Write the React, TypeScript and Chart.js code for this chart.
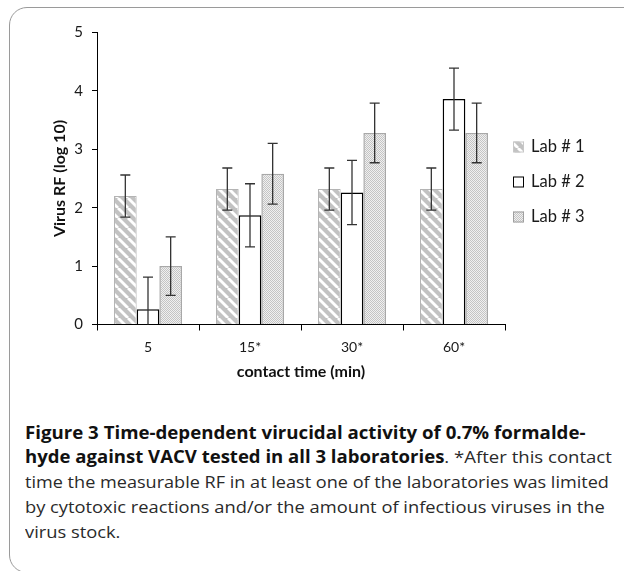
import React, { useEffect, useLayoutEffect, useRef } from "react";
import { Chart, registerables } from "chart.js";

Chart.register(...registerables);

// ---- data ----
const categories = ["5", "15*", "30*", "60*"];
const seriesNames = ["Lab # 1", "Lab # 2", "Lab # 3"];
const lab1 = [2.2, 2.32, 2.32, 2.32];
const lab2 = [0.26, 1.87, 2.26, 3.86];
const lab3 = [1.0, 2.58, 3.28, 3.28];
const lab1Err = [0.36, 0.36, 0.36, 0.36];
const lab2Err = [0.55, 0.54, 0.55, 0.53];
const lab3Err = [0.5, 0.52, 0.51, 0.51];
const yMin = 0;
const yMax = 5;
const yStep = 1;
const yTitle = "Virus RF (log 10)";
const xTitle = "contact time (min)";

const captionLines: { bold: string; normal: string; target: number }[] = [
  { bold: "Figure 3 Time-dependent virucidal activity of 0.7% formalde-", normal: "", target: 560 },
  { bold: "hyde against VACV tested in all 3 laboratories", normal: ". *After this contact", target: 587 },
  { bold: "", normal: "time the measurable RF in at least one of the laboratories was limited", target: 584 },
  { bold: "", normal: "by cytotoxic reactions and/or the amount of infectious viruses in the", target: 580 },
  { bold: "", normal: "virus stock.", target: 0 },
];

const TICK_FONT = "Lato, 'Open Sans', sans-serif";

function stripePattern(ctx: CanvasRenderingContext2D) {
  const n = 10;
  const c = document.createElement("canvas");
  c.width = n;
  c.height = n;
  const g = c.getContext("2d")!;
  g.fillStyle = "#c2c2c2";
  g.fillRect(0, 0, n, n);
  g.strokeStyle = "#ffffff";
  g.lineWidth = 2.8;
  for (const off of [-n, 0, n]) {
    g.beginPath();
    g.moveTo(off, 0);
    g.lineTo(off + n, n);
    g.stroke();
  }
  return ctx.createPattern(c, "repeat")!;
}

function dotPattern(ctx: CanvasRenderingContext2D) {
  const c = document.createElement("canvas");
  c.width = 2;
  c.height = 2;
  const g = c.getContext("2d")!;
  g.fillStyle = "#f0f0f0";
  g.fillRect(0, 0, 2, 2);
  g.fillStyle = "#c4c4c4";
  g.fillRect(0, 0, 1, 1);
  g.fillRect(1, 1, 1, 1);
  return ctx.createPattern(c, "repeat")!;
}

const errorBarsPlugin = {
  id: "errorBars",
  afterDatasetsDraw(chart: any) {
    const { ctx, chartArea, scales } = chart;
    const y = scales.y;
    ctx.save();
    ctx.beginPath();
    ctx.rect(chartArea.left, chartArea.top - 20, chartArea.right - chartArea.left, chartArea.bottom - chartArea.top + 20);
    ctx.clip();
    chart.data.datasets.forEach((ds: any, di: number) => {
      const meta = chart.getDatasetMeta(di);
      meta.data.forEach((bar: any, i: number) => {
        const v = ds.data[i];
        const e = ds.errors[i];
        const yt = y.getPixelForValue(v + e);
        const yb = y.getPixelForValue(v - e);
        const x = bar.x;
        ctx.strokeStyle = "#333333";
        ctx.lineWidth = 1.3;
        ctx.beginPath();
        ctx.moveTo(x, yt);
        ctx.lineTo(x, yb);
        ctx.moveTo(x - 5, yt);
        ctx.lineTo(x + 5, yt);
        ctx.moveTo(x - 5, yb);
        ctx.lineTo(x + 5, yb);
        ctx.stroke();
      });
    });
    ctx.restore();
  },
};

const sideLegendPlugin = {
  id: "sideLegend",
  afterDraw(chart: any) {
    const { ctx, chartArea } = chart;
    const cy = (chartArea.top + chartArea.bottom) / 2 + 3.5;
    ctx.save();
    chart.data.datasets.forEach((ds: any, i: number) => {
      const yc = cy + (i - 1) * 35;
      const bx = chartArea.right + 8;
      const size = 11;
      ctx.fillStyle = ds.backgroundColor;
      ctx.fillRect(bx, yc - size / 2, size, size);
      ctx.strokeStyle = ds.legendBorder;
      ctx.lineWidth = 1;
      ctx.strokeRect(bx + 0.5, yc - size / 2 + 0.5, size - 1, size - 1);
      ctx.fillStyle = "#1a1a1a";
      ctx.font = `16.5px ${TICK_FONT}`;
      ctx.textBaseline = "middle";
      ctx.textAlign = "left";
      ctx.fillText(ds.label, chartArea.right + 26, yc);
    });
    ctx.restore();
  },
};

function BarChart() {
  const ref = useRef<HTMLCanvasElement>(null);
  useEffect(() => {
    const canvas = ref.current!;
    const ctx = canvas.getContext("2d")!;
    const chart = new Chart(ctx, {
      type: "bar",
      data: {
        labels: categories,
        datasets: [
          {
            label: seriesNames[0],
            data: lab1,
            errors: lab1Err,
            backgroundColor: stripePattern(ctx),
            borderColor: "#b4b4b4",
            borderWidth: 1,
            legendBorder: "#c8c8c8",
          } as any,
          {
            label: seriesNames[1],
            data: lab2,
            errors: lab2Err,
            backgroundColor: "#ffffff",
            borderColor: "#000000",
            borderWidth: 1.5,
            legendBorder: "#000000",
          } as any,
          {
            label: seriesNames[2],
            data: lab3,
            errors: lab3Err,
            backgroundColor: dotPattern(ctx),
            borderColor: "#a8a8a8",
            borderWidth: 1.5,
            legendBorder: "#a0a0a0",
          } as any,
        ],
      },
      options: {
        responsive: false,
        animation: false,
        devicePixelRatio: 1,
        categoryPercentage: 0.667,
        barPercentage: 1,
        layout: { padding: { left: 0, right: 111, top: 24.5, bottom: 0 } },
        plugins: {
          legend: { display: false },
          tooltip: { enabled: false },
        },
        scales: {
          x: {
            type: "category",
            grid: {
              offset: true,
              drawOnChartArea: false,
              drawTicks: true,
              tickLength: 6,
              color: "#000000",
              lineWidth: 1,
            },
            border: { color: "#000000", width: 1 },
            ticks: { padding: 9, color: "#1a1a1a", font: { family: TICK_FONT, size: 14 } },
            title: {
              display: true,
              text: xTitle,
              color: "#111111",
              font: { family: TICK_FONT, size: 16, weight: "bold" },
              padding: { top: 0, bottom: 16.4 },
            },
            afterFit(scale: any) {
              scale.height = 73.5;
            },
          },
          y: {
            min: yMin,
            max: yMax,
            grid: {
              drawOnChartArea: false,
              drawTicks: true,
              tickLength: 5,
              color: "#000000",
              lineWidth: 1,
            },
            border: { color: "#000000", width: 1 },
            ticks: {
              stepSize: yStep,
              padding: 9,
              color: "#1a1a1a",
              font: { family: TICK_FONT, size: 15 },
            },
            title: {
              display: true,
              text: yTitle,
              color: "#111111",
              font: { family: TICK_FONT, size: 16, weight: "bold" },
              padding: { top: 42.4, bottom: 0 },
            },
            afterFit(scale: any) {
              scale.width = 89;
            },
          },
        },
      } as any,
      plugins: [errorBarsPlugin, sideLegendPlugin],
    });
    return () => chart.destroy();
  }, []);
  return (
    <canvas
      ref={ref}
      width={608}
      height={390}
      style={{ position: "absolute", left: 8, top: 8, width: 608, height: 390 }}
    />
  );
}

function Caption() {
  const refs = useRef<(HTMLDivElement | null)[]>([]);
  useLayoutEffect(() => {
    let lastScale = 1;
    captionLines.forEach((ln, i) => {
      const el = refs.current[i];
      if (!el) return;
      const w = el.scrollWidth;
      let s = lastScale;
      if (ln.target > 0 && w > 0) s = ln.target / w;
      lastScale = s;
      el.style.transform = `scaleX(${s})`;
    });
  }, []);
  return (
    <div style={{ position: "absolute", left: 25, top: 420.5 }}>
      {captionLines.map((ln, i) => (
        <div
          key={i}
          ref={(el) => {
            refs.current[i] = el;
          }}
          style={{
            whiteSpace: "nowrap",
            fontFamily: "'Open Sans', sans-serif",
            fontSize: 17,
            lineHeight: "24.8px",
            height: 24.8,
            color: "#2a2a2a",
            transformOrigin: "0 50%",
            display: "block",
            width: "max-content",
          }}
        >
          {ln.bold ? <span style={{ fontWeight: 700, color: "#111" }}>{ln.bold}</span> : null}
          {ln.normal}
        </div>
      ))}
    </div>
  );
}

export default function App() {
  return (
    <div
      style={{
        position: "fixed",
        left: 0,
        top: 0,
        width: 624,
        height: 571,
        overflow: "hidden",
        background: "#ffffff",
      }}
    >
      <div
        style={{
          position: "absolute",
          left: 8.5,
          top: 6.5,
          width: 660,
          height: 566,
          border: "1.5px solid #9a9a9a",
          borderRadius: 18,
          boxSizing: "border-box",
        }}
      />
      <BarChart />
      <div style={{ position: "absolute", left: 0, top: 0 }}>
        <Caption />
      </div>
    </div>
  );
}
